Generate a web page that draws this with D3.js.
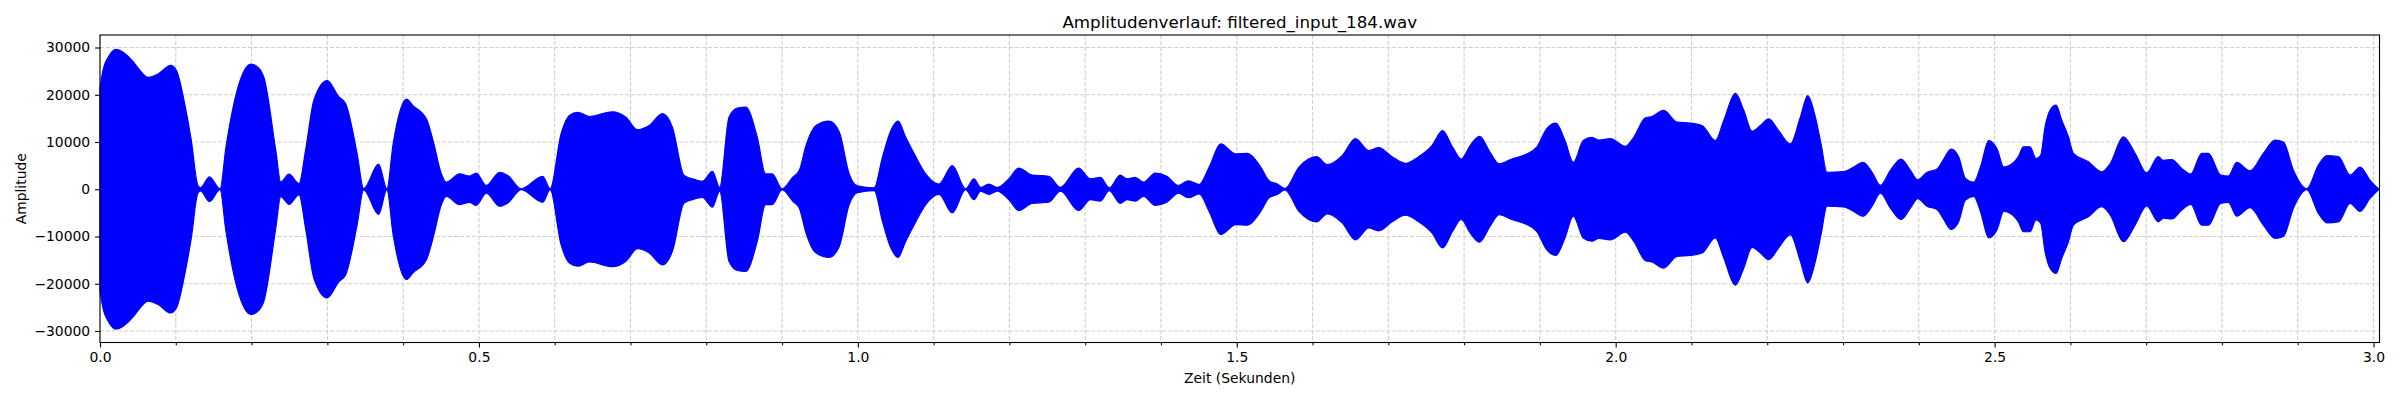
<!DOCTYPE html>
<html>
<head>
<meta charset="utf-8">
<script src="https://cdn.jsdelivr.net/npm/d3@7"></script>
<style>
  html, body { margin: 0; padding: 0; background: #fff; }
  svg { display: block; font-family: "DejaVu Sans", sans-serif; }
</style>
</head>
<body>
<svg id="chart" width="2400" height="400"></svg>
<script>
// envelope of the waveform (seconds / peak amplitude)
var timeS = [
  0.000, 0.0044, 0.011, 0.021, 0.0438, 0.0525, 0.0635, 0.0766, 0.0932, 0.1007,
  0.1116, 0.1204, 0.1291, 0.1326, 0.1444, 0.1584, 0.1663, 0.1816, 0.1991, 0.2079,
  0.2166, 0.2319, 0.2385, 0.2494, 0.2626, 0.2713, 0.2823, 0.2998, 0.3151, 0.3239,
  0.3392, 0.3479, 0.3676, 0.3786, 0.3868, 0.4044, 0.413, 0.4307, 0.4395, 0.4505,
  0.457, 0.4746, 0.4878, 0.4965, 0.5097, 0.5273, 0.5382, 0.5558, 0.5843, 0.594,
  0.6084, 0.6194, 0.6304, 0.6457, 0.6764, 0.694, 0.7093, 0.7247, 0.7423, 0.7554,
  0.7708, 0.7861, 0.7949, 0.8081, 0.8177, 0.83, 0.841, 0.852, 0.8673, 0.8783,
  0.887, 0.900, 0.914, 0.9228, 0.9316, 0.9448, 0.9623, 0.9755, 0.9886, 0.9996,
  1.0216, 1.0325, 1.0435, 1.0531, 1.0632, 1.0764, 1.0896, 1.1071, 1.1247, 1.1422,
  1.1532, 1.162, 1.1729, 1.1839, 1.1992, 1.2124, 1.23, 1.2519, 1.2673, 1.2914,
  1.3068, 1.3199, 1.3318, 1.3462, 1.355, 1.366, 1.377, 1.3923, 1.4077, 1.423,
  1.4362, 1.4504, 1.4636, 1.4789, 1.4987, 1.514, 1.5316, 1.5426, 1.5535, 1.5636,
  1.5821, 1.6053, 1.6194, 1.6391, 1.6567, 1.6742, 1.6874, 1.7049, 1.7225, 1.740,
  1.7576, 1.7716, 1.7848, 1.7962, 1.808, 1.8203, 1.8344, 1.8462, 1.8629, 1.8804,
  1.8958, 1.9089, 1.9212, 1.9331, 1.9441, 1.9572, 1.9688, 1.9776, 1.993, 2.0128,
  2.0238, 2.0392, 2.048, 2.0634, 2.081, 2.0986, 2.114, 2.1315, 2.1425, 2.158,
  2.169, 2.180, 2.191, 2.2019, 2.2151, 2.2305, 2.2437, 2.2534, 2.2635, 2.271,
  2.2789, 2.3009, 2.3141, 2.3264, 2.3383, 2.3493, 2.3625, 2.3766, 2.3889, 2.3986,
  2.4109, 2.4241, 2.4329, 2.4426, 2.4527, 2.4615, 2.4725, 2.4813, 2.4923, 2.5033,
  2.5121, 2.5248, 2.5314, 2.538, 2.5468, 2.5547, 2.5608, 2.5666, 2.5732, 2.5811,
  2.5886, 2.5974, 2.604, 2.6238, 2.6414, 2.6524, 2.670, 2.6854, 2.7007, 2.7161,
  2.7227, 2.7337, 2.7469, 2.7588, 2.7733, 2.7821, 2.7984, 2.8085, 2.8195, 2.8371,
  2.8547, 2.8701, 2.8811, 2.8943, 2.9119, 2.9273, 2.9383, 2.9537, 2.9691, 2.9823,
  2.9955, 3.0065
];
var peakAmp = [
  21500, 25500, 28000, 29600, 27000, 25200, 23700, 24400, 26200, 25200,
  18200, 10400, 850, 350, 2600, 100, 9000, 21300, 26500, 25900,
  23500, 8300, 1550, 3200, 1200, 8300, 18900, 23000, 19600, 18200,
  7600, 150, 5300, 100, 9600, 19100, 17700, 14900, 10300, 3250,
  1500, 3250, 2800, 3400, 800, 3600, 2900, 100, 2750, 100,
  11700, 15600, 16300, 15400, 16400, 15250, 12600, 13500, 16000, 13100,
  2900, 2000, 1700, 3800, 400, 15250, 17200, 17400, 11000, 3250,
  3250, 100, 2500, 4000, 9250, 13500, 14400, 12100, 3250, 700,
  300, 6800, 12400, 14400, 11000, 6900, 3250, 1100, 5000, 100,
  2200, 400, 1100, 400, 2200, 4500, 3000, 2750, 400, 4500,
  2200, 2500, 300, 3000, 2200, 2500, 1500, 3400, 2750, 800,
  1800, 1000, 4700, 9600, 7500, 7600, 4700, 1800, 1100, 150,
  4700, 6900, 5200, 7100, 10700, 8200, 8800, 6900, 5500, 6900,
  9250, 12400, 8900, 6400, 9250, 11200, 7800, 5400, 6400, 7300,
  8900, 12800, 14000, 10300, 5700, 10300, 11000, 10400, 10700, 9100,
  11000, 15100, 15400, 16700, 14200, 14000, 13500, 10300, 14500, 20300,
  16700, 12300, 13500, 14900, 12400, 9600, 15250, 19800, 15250, 9600,
  3600, 3750, 4700, 5700, 3600, 800, 4000, 6400, 4000, 2000,
  3600, 4300, 6400, 8500, 6800, 2300, 1500, 4700, 10300, 8500,
  4700, 5600, 6900, 9000, 9000, 6500, 7200, 13200, 16700, 17800,
  14600, 11100, 7600, 5800, 3700, 5400, 11100, 7600, 3500, 6900,
  6100, 6300, 4400, 3200, 7600, 7600, 3000, 2800, 5700, 3900,
  7600, 10400, 10000, 4000, 100, 5100, 7100, 6900, 3000, 4700,
  1900, 100
];
var yTicks = [-30000, -20000, -10000, 0, 10000, 20000, 30000];
var xMajorTicks = [0, 0.5, 1.0, 1.5, 2.0, 2.5, 3.0];
var xMinorTicks = d3.range(0, 31).map(function (i) { return i / 10; });

var titleText = 'Amplitudenverlauf: filtered_input_184.wav';
var xLabelText = 'Zeit (Sekunden)';
var yLabelText = 'Amplitude';

(function () {
  var plotLeft = 100, plotRight = 2379.5, plotTop = 35, plotBottom = 342.5;
  var svg = d3.select('#chart');

  var x = d3.scaleLinear().domain([0, 3.0079]).range([plotLeft, plotRight]);
  var y = d3.scaleLinear().domain([-32440, 32650]).range([plotBottom, plotTop]);

  var gridColor = '#cfcfcf';

  // grid (x on major+minor ticks, y on major ticks)
  svg.append('g').selectAll('line').data(xMinorTicks).enter().append('line')
    .attr('x1', function (d) { return x(d); }).attr('x2', function (d) { return x(d); })
    .attr('y1', plotTop).attr('y2', plotBottom)
    .attr('stroke', gridColor).attr('stroke-width', 1.1).attr('stroke-dasharray', '4.1,1.8');

  svg.append('g').selectAll('line').data(yTicks).enter().append('line')
    .attr('x1', plotLeft).attr('x2', plotRight)
    .attr('y1', function (d) { return y(d); }).attr('y2', function (d) { return y(d); })
    .attr('stroke', gridColor).attr('stroke-width', 1.1).attr('stroke-dasharray', '4.1,1.8');

  // waveform envelope
  var pts = timeS.map(function (t, i) { return { t: t, a: peakAmp[i] }; });
  var area = d3.area()
    .x(function (d) { return x(d.t); })
    .y0(function (d) { return y(-d.a); })
    .y1(function (d) { return y(d.a); })
    .curve(d3.curveMonotoneX);

  svg.append('path').datum(pts)
    .attr('d', area)
    .attr('fill', '#0000ff')
    .attr('stroke', '#0000ff')
    .attr('stroke-width', 1.2);

  // axes
  var minus = function (d) { return d < 0 ? '\u2212' + Math.abs(d) : String(d); };

  var xAxis = svg.append('g').attr('transform', 'translate(0,' + plotBottom + ')')
    .call(d3.axisBottom(x).tickValues(xMajorTicks).tickFormat(d3.format('.1f'))
      .tickSizeInner(4.9).tickSizeOuter(0).tickPadding(4.9));
  var xMinor = svg.append('g').attr('transform', 'translate(0,' + plotBottom + ')')
    .call(d3.axisBottom(x).tickValues(xMinorTicks.filter(function (d) { return xMajorTicks.indexOf(d) < 0; }))
      .tickFormat('').tickSizeInner(2.8).tickSizeOuter(0));
  var yAxis = svg.append('g').attr('transform', 'translate(' + plotLeft + ',0)')
    .call(d3.axisLeft(y).tickValues(yTicks).tickFormat(minus)
      .tickSizeInner(4.9).tickSizeOuter(0).tickPadding(4.9));

  [xAxis, xMinor, yAxis].forEach(function (g) {
    g.select('.domain').remove();
    g.selectAll('line').attr('stroke', '#000').attr('stroke-width', 1.1);
    g.selectAll('text').attr('fill', '#000')
      .style('font-family', '"DejaVu Sans", sans-serif').style('font-size', '13.9px');
  });

  // frame
  svg.append('rect')
    .attr('x', plotLeft).attr('y', plotTop)
    .attr('width', plotRight - plotLeft).attr('height', plotBottom - plotTop)
    .attr('fill', 'none').attr('stroke', '#000').attr('stroke-width', 1.1);

  // labels
  svg.append('text')
    .attr('x', (plotLeft + plotRight) / 2).attr('y', 27.5)
    .attr('text-anchor', 'middle')
    .style('font-size', '16.7px')
    .text(titleText);

  svg.append('text')
    .attr('x', (plotLeft + plotRight) / 2).attr('y', 383)
    .attr('text-anchor', 'middle')
    .style('font-size', '13.9px')
    .text(xLabelText);

  svg.append('text')
    .attr('transform', 'translate(25.5,' + ((plotTop + plotBottom) / 2) + ') rotate(-90)')
    .attr('text-anchor', 'middle')
    .style('font-size', '13.9px')
    .text(yLabelText);
})();
</script>
</body>
</html>
